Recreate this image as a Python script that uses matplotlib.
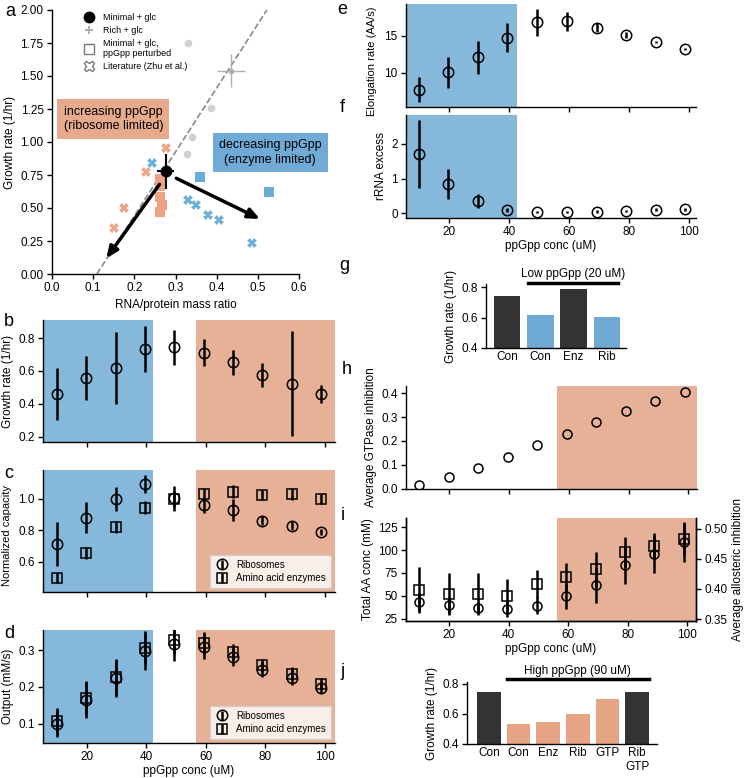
import matplotlib
matplotlib.use("Agg")
import matplotlib.pyplot as plt
import numpy as np
from matplotlib.lines import Line2D

plt.rcParams['font.family'] = ['Liberation Sans', 'DejaVu Sans']
plt.rcParams['font.size'] = 8.5
plt.rcParams['axes.labelsize'] = 8.5
plt.rcParams['axes.linewidth'] = 1.0
plt.rcParams['xtick.major.size'] = 3.5
plt.rcParams['ytick.major.size'] = 3.5
plt.rcParams['xtick.labelsize'] = 8.5
plt.rcParams['ytick.labelsize'] = 8.5
plt.rcParams['axes.labelpad'] = 3

W, H = 747, 778
BLUE_BG = '#86b8db'
SALMON_BG = '#e6b196'
BLUE_M = '#6aaed6'
SALMON_M = '#eda283'
BLUE_BAR = '#6eaad4'
SALMON_BAR = '#e6a484'
DARK = '#333333'

# ---------------- data ----------------
# panel a
min_glc_x, min_glc_y = [0.276], [0.778]
min_glc_xerr, min_glc_yerr = [0.021], [0.133]
rich_x, rich_y = [0.434], [1.54]
rich_xerr, rich_yerr = [0.034], [0.125]
gray_x = [0.330, 0.387, 0.340, 0.328]
gray_y = [1.747, 1.255, 1.035, 0.912]
fit_x = [0.109, 0.522]
fit_y = [0.0, 2.0]
sq_sal_x = [0.263, 0.263, 0.262, 0.268, 0.262]
sq_sal_y = [0.72, 0.67, 0.58, 0.52, 0.47]
sq_blue_x = [0.360, 0.526]
sq_blue_y = [0.732, 0.619]
x_sal_x = [0.276, 0.228, 0.175, 0.150]
x_sal_y = [0.955, 0.770, 0.500, 0.346]
x_blue_x = [0.242, 0.331, 0.349, 0.379, 0.406, 0.485]
x_blue_y = [0.843, 0.561, 0.523, 0.447, 0.409, 0.237]
arrow_enz = [(0.302, 0.725), (0.505, 0.417)]
arrow_rib = [(0.261, 0.679), (0.132, 0.119)]

# shared ppGpp concentration
ppgpp = [9.9, 19.8, 29.6, 39.5, 49.4, 59.3, 69.2, 79.0, 88.9, 98.8]

# panel b
growth = [0.459, 0.557, 0.618, 0.733, 0.743, 0.711, 0.654, 0.575, 0.522, 0.461]
growth_err = [0.16, 0.135, 0.22, 0.14, 0.105, 0.083, 0.076, 0.071, 0.32, 0.054]

# panel c
cap_rib = [0.712, 0.881, 1.0, 1.095, 1.004, 0.958, 0.93, 0.862, 0.829, 0.788]
cap_rib_err = [0.14, 0.10, 0.077, 0.056, 0.078, 0.05, 0.07, 0.03, 0.03, 0.02]
cap_enz = [0.496, 0.655, 0.82, 0.945, 1.0, 1.03, 1.047, 1.025, 1.03, 0.998]
cap_enz_err = [0.03, 0.04, 0.04, 0.04, 0.05, 0.04, 0.04, 0.03, 0.04, 0.03]

# panel d
out_rib = [0.100, 0.164, 0.223, 0.297, 0.318, 0.309, 0.282, 0.247, 0.225, 0.197]
out_rib_err = [0.038, 0.048, 0.05, 0.05, 0.048, 0.034, 0.025, 0.02, 0.02, 0.015]
out_enz = [0.107, 0.170, 0.227, 0.306, 0.329, 0.320, 0.295, 0.259, 0.236, 0.209]
out_enz_err = [0.035, 0.045, 0.048, 0.045, 0.04, 0.03, 0.022, 0.018, 0.018, 0.014]

# panel e
elong = [7.66, 10.05, 12.07, 14.73, 16.8, 16.94, 16.08, 15.05, 14.14, 13.2]
elong_err = [1.67, 2.1, 2.25, 1.98, 1.87, 1.28, 0.6, 0.4, 0.2, 0.15]

# panel f
rrna = [1.72, 0.85, 0.35, 0.086, 0.03, 0.03, 0.05, 0.07, 0.10, 0.12]
rrna_err = [0.98, 0.43, 0.21, 0.06, 0.03, 0.03, 0.04, 0.04, 0.04, 0.04]

# panel g
g_labels = ['Con', 'Con', 'Enz', 'Rib']
g_values = [0.743, 0.614, 0.785, 0.601]

# panel h
gtpase = [0.0153, 0.0474, 0.088, 0.134, 0.183, 0.231, 0.279, 0.326, 0.369, 0.407]

# panel i
aa_conc = [56, 52, 52, 50, 63, 71, 79, 98, 104, 112]
aa_conc_err = [25, 23, 23, 19, 15, 15, 19, 16, 15, 17]
allo = [0.378, 0.373, 0.368, 0.367, 0.372, 0.388, 0.407, 0.44, 0.458, 0.478]
allo_err = [0.015, 0.015, 0.01, 0.014, 0.014, 0.021, 0.03, 0.032, 0.032, 0.034]

# panel j
j_labels = ['Con', 'Con', 'Enz', 'Rib', 'GTP', 'Rib\nGTP']
j_values = [0.741, 0.533, 0.545, 0.60, 0.695, 0.745]

# ---------------- helpers ----------------
def rect(l, t, r, b):
    return [l / W, 1 - b / H, (r - l) / W, (b - t) / H]

def style(ax, right=False):
    ax.spines['top'].set_visible(False)
    if not right:
        ax.spines['right'].set_visible(False)
    ax.tick_params(direction='out', width=1.0, pad=2.5)

fig = plt.figure(figsize=(W / 100, H / 100), dpi=100)

# ---------------- panel a ----------------
axa = fig.add_axes(rect(52, 10, 299, 274))
style(axa)
axa.plot(fit_x, fit_y, ls='--', color='#888888', lw=1.2, zorder=1)
axa.plot(gray_x, gray_y, 'o', color='#d0d0d0', ms=4.5, zorder=2)
axa.errorbar(rich_x, rich_y, xerr=rich_xerr, yerr=rich_yerr, fmt='o', color='#b0b0b0',
             ms=3, lw=1.0, zorder=2)
axa.plot(x_sal_x, x_sal_y, 'X', color=SALMON_M, ms=6.5, mew=0, zorder=3)
axa.plot(x_blue_x, x_blue_y, 'X', color=BLUE_M, ms=6.5, mew=0, zorder=3)
axa.plot(sq_sal_x, sq_sal_y, 's', color=SALMON_M, ms=6.5, mew=0, zorder=3)
axa.plot(sq_blue_x, sq_blue_y, 's', color=BLUE_M, ms=6.5, mew=0, zorder=3)
axa.errorbar(min_glc_x, min_glc_y, xerr=min_glc_xerr, yerr=min_glc_yerr, fmt='o',
             color='black', ms=7.5, lw=1.5, zorder=5)
for (s, e) in [arrow_enz, arrow_rib]:
    axa.annotate('', xy=e, xytext=s,
                 arrowprops=dict(arrowstyle='-|>,head_length=0.8,head_width=0.35',
                                 color='black', lw=2.5, shrinkA=0, shrinkB=0), zorder=6)
axa.text(0.149, 1.174, 'increasing ppGpp\n(ribosome limited)', ha='center', va='center',
         fontsize=9, linespacing=1.3,
         bbox=dict(boxstyle='square,pad=0.5', fc='#e8aa8c', ec='none'))
axa.text(0.530, 0.922, 'decreasing ppGpp\n(enzyme limited)', ha='center', va='center',
         fontsize=9, linespacing=1.3,
         bbox=dict(boxstyle='square,pad=0.5', fc='#6fabd6', ec='none'))
axa.set_xlim(0, 0.6)
axa.set_ylim(0, 2.0)
axa.set_xticks(np.arange(0, 0.61, 0.1))
axa.set_yticks(np.arange(0, 2.01, 0.25))
axa.xaxis.set_major_formatter(matplotlib.ticker.FormatStrFormatter('%.1f'))
axa.yaxis.set_major_formatter(matplotlib.ticker.FormatStrFormatter('%.2f'))
axa.set_xlabel('RNA/protein mass ratio')
axa.set_ylabel('Growth rate (1/hr)')
handles = [
    Line2D([], [], marker='o', ls='none', color='black', ms=7.5),
    Line2D([], [], marker='P', ls='none', color='#b0b0b0', ms=5.5, mew=0),
    Line2D([], [], marker='s', ls='none', mfc='white', mec='#777777', ms=7.5, mew=1),
    Line2D([], [], marker='X', ls='none', mfc='white', mec='#777777', ms=7.5, mew=1),
]
axa.legend(handles, ['Minimal + glc', 'Rich + glc', 'Minimal + glc,\nppGpp perturbed',
                     'Literature (Zhu et al.)'],
           loc='upper left', bbox_to_anchor=(0.08, 1.02), frameon=False, fontsize=6.5,
           handletextpad=0.6, labelspacing=0.45)

# ---------------- panels b, c, d ----------------
XL_L = (5.2, 103.4)
def shade(ax, blue_end=42.2, sal_start=56.6, xl=XL_L, blue=True, sal=True):
    if blue:
        ax.axvspan(xl[0], blue_end, color=BLUE_BG, lw=0, zorder=0)
    if sal:
        ax.axvspan(sal_start, xl[1], color=SALMON_BG, lw=0, zorder=0)
    ax.set_xlim(*xl)

ekw = dict(mfc='none', mec='black', ecolor='black', elinewidth=1.8, mew=1.1, capsize=0)

axb = fig.add_axes(rect(43, 320, 335, 442))
style(axb)
shade(axb)
axb.errorbar(ppgpp, growth, yerr=growth_err, fmt='o', ms=7.5, **ekw)
axb.set_ylim(0.167, 0.91)
axb.set_yticks([0.2, 0.4, 0.6, 0.8])
axb.set_xticks([20, 40, 60, 80, 100])
axb.set_xticklabels([])
axb.set_ylabel('Growth rate (1/hr)')

axc = fig.add_axes(rect(43, 470, 335, 592))
style(axc)
shade(axc)
hc1 = axc.errorbar(ppgpp, cap_rib, yerr=cap_rib_err, fmt='o', ms=7.5, **ekw)
hc2 = axc.errorbar(ppgpp, cap_enz, yerr=cap_enz_err, fmt='s', ms=7, **ekw)
axc.set_ylim(0.407, 1.184)
axc.set_yticks([0.6, 0.8, 1.0])
axc.set_xticks([20, 40, 60, 80, 100])
axc.set_xticklabels([])
axc.set_ylabel('Normalized capacity', fontsize=8)
axc.yaxis.set_label_coords(-0.105, 0.46)
axc.legend([hc1, hc2], ['Ribosomes', 'Amino acid enzymes'], loc='lower right',
           fontsize=7, handlelength=1.4, borderaxespad=0.4, fancybox=False,
           borderpad=0.5, labelspacing=0.35)

axd = fig.add_axes(rect(43, 630, 335, 743))
style(axd)
shade(axd)
hd1 = axd.errorbar(ppgpp, out_rib, yerr=out_rib_err, fmt='o', ms=7.5, **ekw)
hd2 = axd.errorbar(ppgpp, out_enz, yerr=out_enz_err, fmt='s', ms=7, **ekw)
axd.set_ylim(0.047, 0.355)
axd.set_yticks([0.1, 0.2, 0.3])
axd.set_xticks([20, 40, 60, 80, 100])
axd.set_ylabel('Output (mM/s)')
axd.set_xlabel('ppGpp conc (uM)', labelpad=1)
axd.legend([hd1, hd2], ['Ribosomes', 'Amino acid enzymes'], loc='lower right',
           fontsize=7, handlelength=1.4, borderaxespad=0.4, fancybox=False,
           borderpad=0.5, labelspacing=0.35)

# ---------------- panels e, f ----------------
XL_R = (5.7, 102.3)
axe = fig.add_axes(rect(406, 4, 696, 107))
style(axe)
shade(axe, blue_end=42.7, xl=XL_R, sal=False)
axe.errorbar(ppgpp, elong, yerr=elong_err, fmt='o', ms=7.5, **ekw)
axe.set_ylim(5.32, 19.3)
axe.set_yticks([10, 15])
axe.set_xticks([20, 40, 60, 80, 100])
axe.set_xticklabels([])
axe.set_ylabel('Elongation rate (AA/s)', fontsize=8)
axe.yaxis.set_label_coords(-0.1, 0.44)

axf = fig.add_axes(rect(406, 115, 696, 218))
style(axf)
shade(axf, blue_end=42.7, xl=XL_R, sal=False)
axf.errorbar(ppgpp, rrna, yerr=rrna_err, fmt='o', ms=7.5, **ekw)
axf.set_ylim(-0.134, 2.83)
axf.set_yticks([0, 1, 2])
axf.set_xticks([20, 40, 60, 80, 100])
axf.set_ylabel('rRNA excess')
axf.set_xlabel('ppGpp conc (uM)', labelpad=1)

# ---------------- panel g ----------------
axg = fig.add_axes(rect(486, 284, 626, 348))
style(axg)
axg.bar(range(len(g_values)), g_values, width=0.8,
        color=[DARK, BLUE_BAR, DARK, BLUE_BAR])
axg.set_xlim(-0.63, 3.57)
axg.set_ylim(0.4, 0.82)
axg.set_yticks([0.4, 0.6, 0.8])
axg.set_xticks(range(len(g_labels)))
axg.set_xticklabels(g_labels)
axg.tick_params(axis='x', length=0)
axg.set_ylabel('Growth rate (1/hr)')
axg.plot([0.63, 3.33], [0.828, 0.828], color='black', lw=2.5, clip_on=False)
axg.text(1.98, 0.845, 'Low ppGpp (20 uM)', ha='center', va='bottom', fontsize=8.5)

# ---------------- panels h, i ----------------
XL_H = (5.5, 102.9)
axh = fig.add_axes(rect(406, 386, 697, 489))
style(axh)
shade(axh, sal_start=56.1, xl=XL_H, blue=False)
axh.plot(ppgpp, gtpase, 'o', mfc='none', mec='black', ms=6.5, mew=1.1)
axh.set_ylim(-0.002, 0.431)
axh.set_yticks([0.0, 0.1, 0.2, 0.3, 0.4])
axh.set_xticks([20, 40, 60, 80, 100])
axh.set_xticklabels([])
axh.set_ylabel('Average GTPase inhibition')

axi = fig.add_axes(rect(406, 518, 696, 621))
axi.spines['top'].set_visible(False)
axi.tick_params(direction='out', width=1.0, pad=2.5)
shade(axi, sal_start=56.1, xl=XL_H, blue=False)
axi.errorbar(ppgpp, aa_conc, yerr=aa_conc_err, fmt='s', ms=6.5, **ekw)
axi.set_ylim(22.8, 134.8)
axi.set_yticks([25, 50, 75, 100, 125])
axi.set_xticks([20, 40, 60, 80, 100])
axi.set_ylabel('Total AA conc (mM)')
axi.set_xlabel('ppGpp conc (uM)', labelpad=1)
axi2 = axi.twinx()
axi2.spines['top'].set_visible(False)
axi2.tick_params(direction='out', width=1.0, pad=2.5)
axi2.errorbar(ppgpp, allo, yerr=allo_err, fmt='o', ms=6.5, **ekw)
axi2.set_ylim(0.3467, 0.518)
axi2.set_yticks([0.35, 0.40, 0.45, 0.50])
axi2.yaxis.set_major_formatter(matplotlib.ticker.FormatStrFormatter('%.2f'))
axi2.set_xlim(*XL_H)
axi2.set_ylabel('Average allosteric inhibition')

# ---------------- panel j ----------------
axj = fig.add_axes(rect(467, 682, 657, 744))
style(axj)
axj.bar(range(len(j_values)), j_values, width=0.8,
        color=[DARK, SALMON_BAR, SALMON_BAR, SALMON_BAR, SALMON_BAR, DARK])
axj.set_xlim(-0.74, 5.67)
axj.set_ylim(0.4, 0.81)
axj.set_yticks([0.4, 0.6, 0.8])
axj.set_xticks(range(len(j_labels)))
axj.set_xticklabels(j_labels)
axj.tick_params(axis='x', length=0)
axj.set_ylabel('Growth rate (1/hr)')
axj.plot([0.61, 5.4], [0.828, 0.828], color='black', lw=2.5, clip_on=False)
axj.text(2.97, 0.845, 'High ppGpp (90 uM)', ha='center', va='bottom', fontsize=8.5)

# ---------------- panel letters ----------------
for lab, x, y in [('a', 10, 12), ('b', 9, 322), ('c', 9, 474), ('d', 9, 634),
                  ('e', 342, 10), ('f', 342, 108), ('g', 344, 265), ('h', 347, 369),
                  ('i', 343, 515), ('j', 342, 672)]:
    fig.text(x / W, 1 - y / H, lab, ha='center', va='center', fontsize=13)

fig.savefig('out.png', dpi=100)
